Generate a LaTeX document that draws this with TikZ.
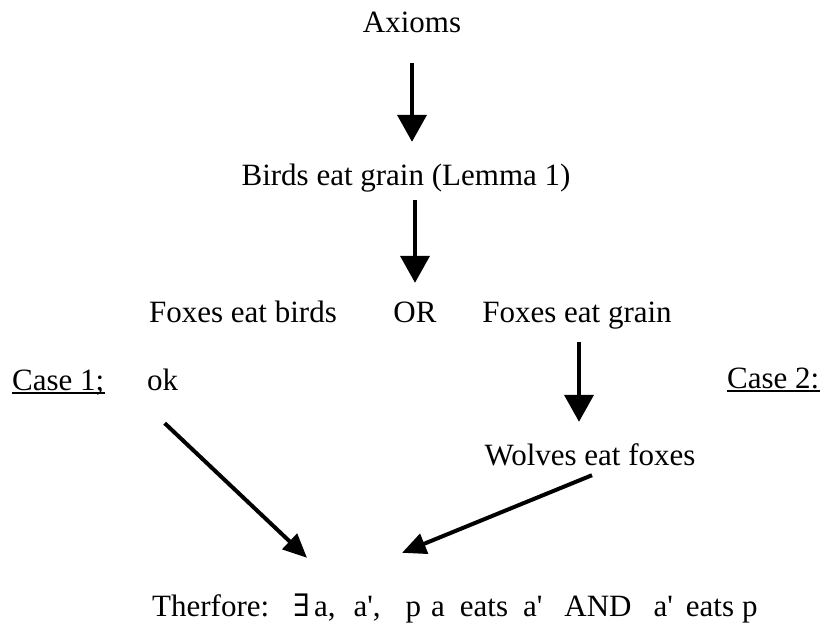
\documentclass[tikz,border=0pt]{standalone}
\usepackage{fontspec}
\setmainfont{Liberation Serif}
\newfontfamily\symbolfont{DejaVu Serif}
\usetikzlibrary{arrows.meta,positioning}

\tikzset{
  stmt/.style={inner sep=0pt, anchor=base, text height=21pt, text depth=7pt,
    font=\fontsize{31}{36}\selectfont},
  implies/.style={line width=4pt, -{Triangle[length=27pt,width=29pt]}},
  slant/.style={line width=4pt, -{Triangle[length=24pt,width=21pt]}},
}

\begin{document}
\begin{tikzpicture}[x=1pt,y=-1pt]
\useasboundingbox (0,0) rectangle (821,624);

% Statements
\node[stmt] (axioms) at (412,32) {Axioms};
\node[stmt] (lemma) at (406,185) {Birds eat grain (Lemma 1)};
\node[stmt] (foxbirds) at (243,322) {Foxes eat birds};
\node[stmt] (or) at (415,322) {OR};
\node[stmt] (foxgrain) at (577,322) {Foxes eat grain};
\node[stmt,anchor=base west] (case1) at (12,390) {Case 1;};
\node[stmt,anchor=base west] (ok) at (147,390) {ok};
\node[stmt,anchor=base west] (case2) at (727,388) {Case 2:};
\node[stmt] (wolves) at (590,465) {Wolves eat foxes};
\node[stmt,anchor=base west] (therefore) at (152,616)
  {Therfore:\hspace{24pt}{\symbolfont ∃}\hspace{4pt}a,\hspace{18pt}a\textquotesingle,\hspace{25pt}p\hspace{10pt}a\hspace{15pt}eats\hspace{15pt}a\textquotesingle\hspace{22pt}AND\hspace{22pt}a\textquotesingle\hspace{13pt}eats\hspace{8pt}p};

% Underlined case labels
\draw[line width=1.5pt] ([yshift=-3pt]case1.base west) -- ([yshift=-3pt]case1.base east);
\draw[line width=1.5pt] ([yshift=-3pt]case2.base west) -- ([yshift=-3pt]case2.base east);

% Arrows down the chain
\draw[implies, shorten <=24pt, shorten >=22pt] (axioms.south) -- (axioms.south |- lemma.north);
\draw[implies, shorten <=8pt, shorten >=18pt] (or.north |- lemma.south) -- (or.north);
\draw[implies, shorten <=13pt, shorten >=22pt] ([xshift=2pt]foxgrain.south) -- ([xshift=2pt]foxgrain.south |- wolves.north);

% Both cases lead to the conclusion
\coordinate (tip1) at ([xshift=155pt,yshift=37pt]therefore.north west);
\coordinate (tip2) at ([xshift=250pt,yshift=42pt]therefore.north west);
\draw[slant] ([xshift=2pt,yshift=-26pt]ok.south) -- (tip1);
\draw[slant] ([xshift=2pt,yshift=-3pt]wolves.south) -- (tip2);

\end{tikzpicture}
\end{document}
